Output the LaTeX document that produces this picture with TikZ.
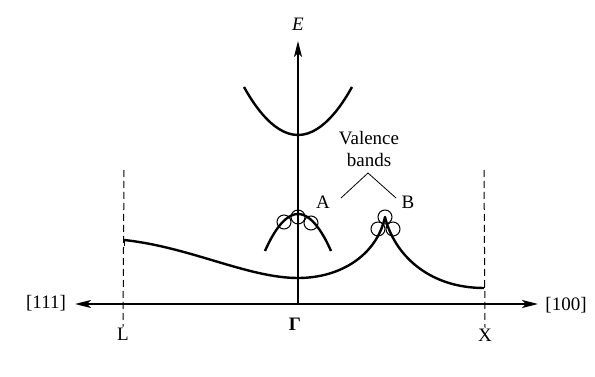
\documentclass[tikz,border=0pt]{standalone}
\usepackage{fontspec}
\setmainfont{Liberation Serif}
\usetikzlibrary{arrows.meta, positioning}

\begin{document}
\begin{tikzpicture}[
  x=1pt, y=-1pt,
  >={Stealth[length=16pt, width=8pt, inset=4pt]},
  axis/.style={->, line width=1.6pt},
  band/.style={line width=2.4pt, line join=round},
  edge/.style={line width=1pt, dash pattern=on 7pt off 4pt},
  hole/.style={draw, line width=1pt, circle, inner sep=0pt, minimum size=14pt},
  lab/.style={font=\fontsize{19}{22}\selectfont, inner sep=1pt},
  pointer/.style={line width=0.8pt}
]
\useasboundingbox (0,0) rectangle (595,377);

% ---------- Axes ----------
\coordinate (orig) at (298,304);
\coordinate (etop) at (298,41);
\coordinate (kl) at (75,304);
\coordinate (kr) at (538,304);
\draw[axis] (orig) -- (etop);
\draw[axis] (orig) -- (kl);
\draw[axis] (orig) -- (kr);
\node[lab, font=\fontsize{19}{22}\selectfont\itshape] (E) at (298,24) {E};
\node[lab] (k111) at (46,303) {[111]};
\node[lab] (k100) at (566,305) {[100]};

% ---------- Zone edges L and X ----------
\coordinate (Ltop) at (124,170);
\coordinate (Xtop) at (484,170);
\node[lab] (L) at (123,334) {L};
\node[lab] (G) at (295,324) {\textbf{Γ}};
\node[lab] (X) at (485,335) {X};
\draw[edge] (Ltop) -- (L.north);
\draw[edge] (Xtop) -- (X.north);

% ---------- Conduction band ----------
\draw[band] (244,87) parabola bend (298,135) (352,87);

% ---------- Valence bands ----------
% bande A au centre de la zone
\draw[band] (265,251) parabola bend (298,214) (331,251);
% bande B, avec le maximum hors du centre
\draw[band] (124,240) .. controls (190,247) and (248,278) .. (298,278)
  .. controls (342,278) and (377,254) .. (385,217)
  .. controls (394,254) and (428,288) .. (484,288);
\draw[line width=1pt] (124,240) -- (124,246);
\draw[line width=1pt] (484,288) -- (484,282);

% ---------- Trous (cercles) ----------
\node[hole] (hA1) at (284,222) {};
\node[hole] (hA2) at (298,217) {};
\node[hole] (hA3) at (311,223) {};
\node[hole] (hB1) at (385,217) {};
\node[hole] (hB2) at (378,229) {};
\node[hole] (hB3) at (393,229) {};

% ---------- Labels A, B ----------
\node[lab] (A) at (323,202) {A};
\node[lab] (B) at (408,202) {B};
\node[lab, align=center] (vb) at (369,149) {Valence\\bands};
\coordinate (apex) at (368,173);
\draw[pointer] (341,198) -- (apex) -- (396,198);

\end{tikzpicture}
\end{document}
